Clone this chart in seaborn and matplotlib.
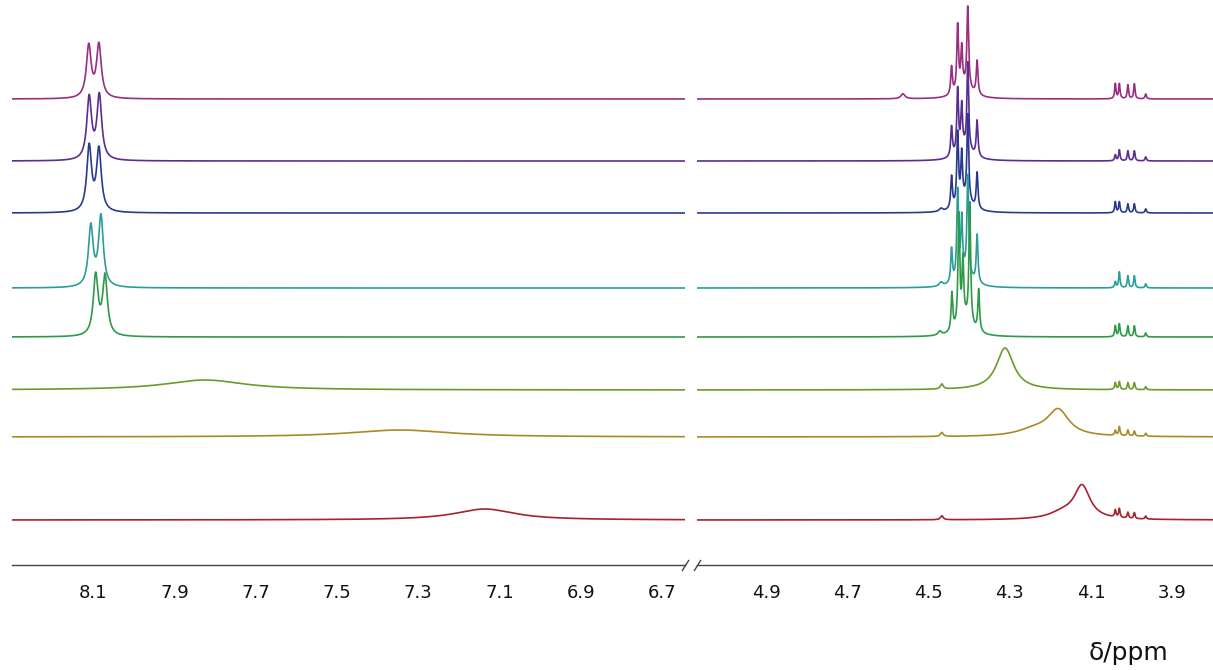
import numpy as np
import pandas as pd
import seaborn as sns
import matplotlib.pyplot as plt

# stacked 1H NMR spectra, top to bottom
samples = ['s1', 's2', 's3', 's4', 's5', 's6', 's7', 's8']
colors = ['#9b2d7f', '#5a2d91', '#283a8e', '#2a9d9a', '#2e9a48', '#6b9b2a', '#a88b25', '#a3232e']
offsets = [466, 404, 352, 277, 228, 175, 128, 45]

# aromatic doublet near 8.1 ppm
doublet_ppm = [[8.111, 8.086], [8.110, 8.085], [8.110, 8.086], [8.106, 8.081],
               [8.094, 8.071], [], [], []]
doublet_height = [[52, 53], [62, 64], [65, 62], [60, 70], [60, 59], [], [], []]

# sharp multiplet near 4.4 ppm
multiplet_ppm = [[4.444, 4.429, 4.419, 4.404, 4.381]] * 4 + [[4.443, 4.426, 4.416, 4.399, 4.377]] + [[]] * 3
multiplet_height = [[28, 66, 40, 80, 34], [30, 64, 44, 86, 36], [32, 72, 48, 86, 36],
                    [34, 88, 56, 98, 48], [38, 110, 60, 120, 42], [], [], []]

# small quartet near 4.0 ppm
quartet_ppm = [4.040, 4.030, 4.009, 3.993, 3.965]
quartet_height = [[15, 15, 14, 15, 5], [6, 11, 10, 10, 4], [11, 11, 9, 9, 4], [6, 16, 12, 12, 4],
                  [11, 13, 11, 11, 4], [7, 8, 7, 7, 3], [5, 9, 6, 5, 3], [7, 9, 6, 6, 3]]

# broad / minor signals: (ppm, height, half width)
broad_peaks = [
    [(4.41, 12, 0.02), (4.564, 5, 0.006)],
    [(4.41, 12, 0.02)],
    [(4.41, 12, 0.02), (4.47, 3, 0.005)],
    [(4.41, 14, 0.02), (4.47, 4, 0.005)],
    [(4.41, 16, 0.02), (4.473, 4, 0.005)],
    [(7.825, 10, 0.12), (4.312, 42, 0.026), (4.468, 5, 0.004)],
    [(7.345, 7, 0.15), (4.181, 26, 0.032), (4.24, 6, 0.05), (4.468, 4, 0.004)],
    [(7.136, 11, 0.09), (4.122, 33, 0.024), (4.17, 6, 0.04), (4.468, 4, 0.004)],
]

regions = {'left': np.linspace(8.30, 6.643, 3000), 'right': np.linspace(5.072, 3.799, 2600)}


def lorentz(x, x0, h, w):
    return h / (1 + ((x - x0) / w) ** 2)


frames = []
for i, s in enumerate(samples):
    for reg, x in regions.items():
        y = np.full(x.shape, float(offsets[i]))
        for p, h in zip(doublet_ppm[i], doublet_height[i]):
            y += lorentz(x, p, h, 0.007)
        for p, h in zip(multiplet_ppm[i], multiplet_height[i]):
            y += lorentz(x, p, h, 0.0025)
        for p, h in zip(quartet_ppm, quartet_height[i]):
            y += lorentz(x, p, h, 0.002)
        for p, h, w in broad_peaks[i]:
            y += lorentz(x, p, h, w)
        frames.append(pd.DataFrame({'ppm': x, 'intensity': y, 'sample': s, 'region': reg}))
df = pd.concat(frames, ignore_index=True)

sns.set_style('white')
plt.rcParams['font.family'] = ['DejaVu Sans']

W, H = 1213, 670
fig = plt.figure(figsize=(W / 100, H / 100), dpi=100)
ax1 = fig.add_axes([12 / W, 1 - 565 / H, (685 - 12) / W, 565 / H])
ax2 = fig.add_axes([697 / W, 1 - 565 / H, (1213 - 697) / W, 565 / H])

palette = dict(zip(samples, colors))
for ax, reg in [(ax1, 'left'), (ax2, 'right')]:
    sns.lineplot(data=df[df['region'] == reg], x='ppm', y='intensity', hue='sample',
                 palette=palette, estimator=None, sort=False, legend=False, lw=1.2, ax=ax)
    ax.set_ylim(0, 565)
    ax.set_xlabel('')
    ax.set_ylabel('')
    ax.set_yticks([])
    for side in ['top', 'left', 'right']:
        ax.spines[side].set_visible(False)
    ax.spines['bottom'].set_color('#444444')
    ax.spines['bottom'].set_linewidth(1.0)
    ax.tick_params(axis='x', which='major', length=9, width=1, color='#444444',
                   direction='out', labelsize=13, pad=5, labelcolor='#111111')
    ax.tick_params(axis='x', which='minor', length=4, width=1, color='#444444', direction='out')
    ax.set_facecolor('none')

ax1.set_xlim(8.30, 6.643)
ax2.set_xlim(5.072, 3.799)

major1 = np.round(np.arange(8.2, 6.65, -0.1), 1)
major2 = np.round(np.arange(5.0, 3.75, -0.1), 1)
for ax, major in [(ax1, major1), (ax2, major2)]:
    labels = [f'{t:.1f}' if int(round(t * 10)) % 2 == 1 else '' for t in major]
    ax.set_xticks(major)
    ax.set_xticklabels(labels)
    ax.set_xticks(np.round(major + 0.05, 2), minor=True)

# break marks
kw = dict(marker=[(-1, -1.6), (1, 1.6)], markersize=8, linestyle='none',
          color='#444444', mec='#444444', mew=1, clip_on=False)
ax1.plot([1], [0], transform=ax1.transAxes, **kw)
ax2.plot([0], [0], transform=ax2.transAxes, **kw)

fig.text(1129 / W, 1 - 653 / H, 'δ/ppm', fontsize=18, ha='center', va='center', color='#111111')

fig.savefig('out.png', dpi=100)
